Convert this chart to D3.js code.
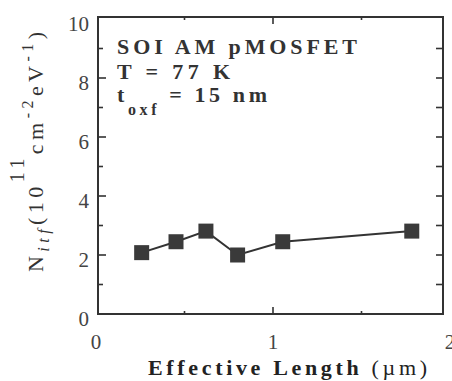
<!DOCTYPE html>
<html><head><meta charset="utf-8">
<script src="https://cdn.jsdelivr.net/npm/d3@7"></script>
</head><body style="margin:0">
<script>
// Data
const lengths = [0.258, 0.452, 0.621, 0.80, 1.055, 1.784];      // effective length (µm)
const nitf    = [2.08, 2.45, 2.81, 2.0, 2.45, 2.81];            // Nitf (1e11 cm^-2 eV^-1)
const xTicks = [0, 1, 2];
const yTicks = [0, 2, 4, 6, 8, 10];
const yMinor = [1, 3, 5, 7, 9];
const xMinor = [0.5, 1.5];

const FONT = "serif";
const svg = d3.select("body").append("svg").attr("width", 452).attr("height", 381)
  .attr("font-family", FONT);

const x = d3.scaleLinear().domain([0, 2]).range([96, 450]);
const y = d3.scaleLinear().domain([0, 10]).range([314, 19]);

const frame = {l: 98, r: 443, t: 17, b: 314};
const ink = "#333";

// tick labels
yTicks.forEach(d => {
  svg.append("text").attr("x", 89).attr("y", y(d) + 12).attr("text-anchor", "end")
    .attr("font-family", FONT).attr("font-size", 21).attr("fill", "#444").text(d);
});
xTicks.forEach(d => {
  svg.append("text").attr("x", x(d)).attr("y", 349).attr("text-anchor", "middle")
    .attr("font-family", FONT).attr("font-size", 21).attr("fill", "#444").text(d);
});

// frame
svg.append("rect").attr("x", frame.l).attr("y", frame.t)
  .attr("width", frame.r - frame.l).attr("height", frame.b - frame.t)
  .attr("fill", "none").attr("stroke", ink).attr("stroke-width", 2);

// ticks
const g = svg.append("g").attr("stroke", ink).attr("stroke-width", 1.6);
yTicks.filter(v => v > 0 && v < 10).forEach(v => {
  g.append("line").attr("x1", frame.l).attr("x2", frame.l + 8).attr("y1", y(v)).attr("y2", y(v));
  g.append("line").attr("x1", frame.r).attr("x2", frame.r - 7).attr("y1", y(v)).attr("y2", y(v));
});
yMinor.forEach(v => {
  g.append("line").attr("x1", frame.l).attr("x2", frame.l + 5).attr("y1", y(v)).attr("y2", y(v));
  g.append("line").attr("x1", frame.r).attr("x2", frame.r - 7).attr("y1", y(v)).attr("y2", y(v));
});
[1].forEach(v => {
  g.append("line").attr("x1", x(v)).attr("x2", x(v)).attr("y1", frame.b).attr("y2", frame.b - 7);
  g.append("line").attr("x1", x(v)).attr("x2", x(v)).attr("y1", frame.t).attr("y2", frame.t + 7);
});
xMinor.forEach(v => {
  g.append("line").attr("x1", x(v)).attr("x2", x(v)).attr("y1", frame.b).attr("y2", frame.b - 3);
  g.append("line").attr("x1", x(v)).attr("x2", x(v)).attr("y1", frame.t).attr("y2", frame.t + 3);
});

// data line + markers
const pts = lengths.map((l, i) => [l, nitf[i]]);
svg.append("path").datum(pts)
  .attr("d", d3.line().x(d => x(d[0])).y(d => y(d[1])))
  .attr("fill", "none").attr("stroke", ink).attr("stroke-width", 2);
const s = 15;
svg.append("g").selectAll("rect").data(pts).join("rect")
  .attr("x", d => x(d[0]) - s / 2).attr("y", d => y(d[1]) - s / 2)
  .attr("width", s).attr("height", s).attr("fill", "#3a3a3a");

// annotation
function at(xx, yy, len) {
  return svg.append("text").attr("x", xx).attr("y", yy).attr("font-family", FONT)
    .attr("font-weight", "bold").attr("font-size", 22).attr("fill", "#333")
    .attr("textLength", len).attr("lengthAdjust", "spacing");
}
at(117, 54, 240).text("SOI AM pMOSFET");
at(117, 79, 113).text("T = 77 K");
const t3 = at(117, 102, 150);
t3.append("tspan").text("t");
t3.append("tspan").attr("dy", 13).attr("font-size", 16).text("oxf");
t3.append("tspan").attr("dy", -13).text(" = 15 nm");

// y-axis label
const yl = svg.append("text").attr("font-family", FONT).attr("transform", "translate(43,272) rotate(-90)")
  .attr("font-size", 22).attr("fill", "#333").attr("textLength", 240).attr("lengthAdjust", "spacing");
yl.append("tspan").text("N");
yl.append("tspan").attr("dy", 6).attr("font-size", 16).attr("font-style", "italic").text("itf");
yl.append("tspan").attr("dy", -6).text("(10");
yl.append("tspan").attr("dy", -19).attr("font-size", 20).text("11");
yl.append("tspan").attr("dy", 19).text("cm");
yl.append("tspan").attr("dy", -10).attr("font-size", 16).text("-2");
yl.append("tspan").attr("dy", 10).text("eV");
yl.append("tspan").attr("dy", -10).attr("font-size", 16).text("-1");
yl.append("tspan").attr("dy", 10).text(")");

// x-axis label
const xl = svg.append("text").attr("font-family", FONT).attr("x", 148).attr("y", 375)
  .attr("font-size", 22).attr("fill", "#222").attr("textLength", 279).attr("lengthAdjust", "spacing");
xl.append("tspan").attr("font-weight", "bold").text("Effective Length");
xl.append("tspan").text("  (µm)");
</script>
</body></html>
